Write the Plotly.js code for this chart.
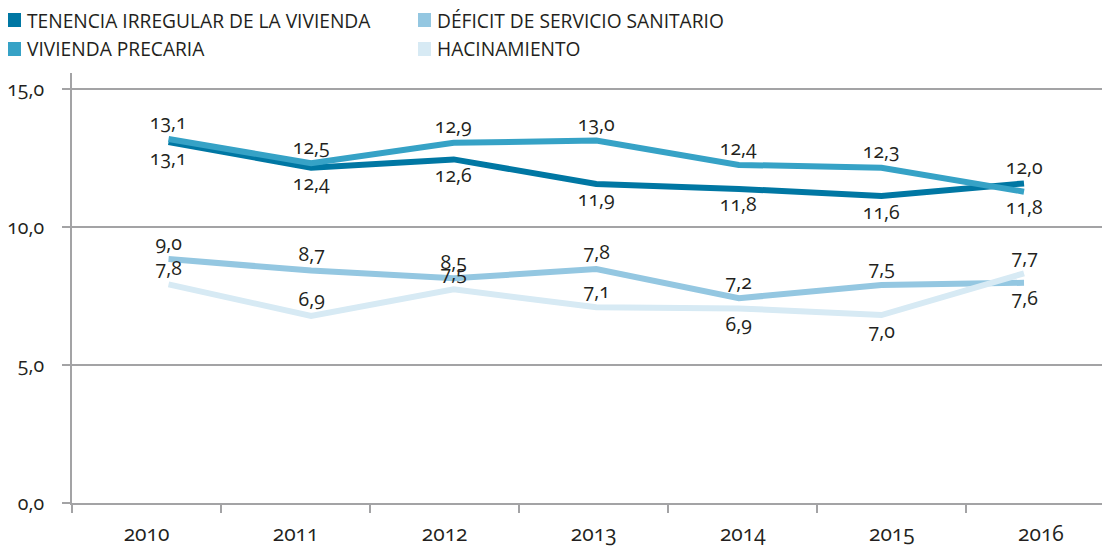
<!DOCTYPE html>
<html>
<head>
<meta charset="utf-8">
<script src="https://cdn.plot.ly/plotly-3.0.1.min.js"></script>
<style>
html,body{margin:0;padding:0;background:#fff;}
#chart{width:1102px;height:558px;}
.main-svg text{font-variant-numeric:oldstyle-nums;font-feature-settings:"onum" 1;}
</style>
</head>
<body>
<div id="chart"></div>
<script>
// Categories
const years = ['2010','2011','2012','2013','2014','2015','2016'];
const seriesNames = ['TENENCIA IRREGULAR DE LA VIVIENDA','VIVIENDA PRECARIA','DÉFICIT DE SERVICIO SANITARIO','HACINAMIENTO'];
const seriesColors = ['#0077a3','#36a2c6','#94c7e1','#d7eaf4'];

// Line values (as drawn)
const tenencia     = [13.08, 12.15, 12.45, 11.56, 11.38, 11.12, 11.58];
const precaria     = [13.19, 12.31, 13.05, 13.13, 12.25, 12.15, 11.28];
const deficit      = [8.84, 8.42, 8.14, 8.48, 7.42, 7.90, 7.98];
const hacinamiento = [7.92, 6.78, 7.74, 7.09, 7.05, 6.81, 8.32];

// Printed data labels
const tenenciaLabels     = ['13,1','12,4','12,6','11,9','11,8','11,6','12,0'];
const precariaLabels     = ['13,1','12,5','12,9','13,0','12,4','12,3','11,8'];
const deficitLabels      = ['9,0','8,7','8,5','7,8','7,2','7,5','7,6'];
const hacinamientoLabels = ['7,8','6,9','7,5','7,1','6,9','7,0','7,7'];

// Label side (+1 above, -1 below)
const tenenciaSide     = [-1,-1,-1,-1,-1,-1, 1];
const precariaSide     = [ 1, 1, 1, 1, 1, 1,-1];
const deficitSide      = [ 1, 1, 1, 1, 1, 1,-1];
const hacinamientoSide = [ 1, 1, 1, 1,-1,-1, 1];

// Y axis ticks
const yTickVals = [0, 5, 10, 15];
const yTickText = ['0,0','5,0','10,0','15,0'];

const FONT = '"Open Sans", Lato, "DejaVu Sans", sans-serif';
const TXT = '#231f20';
const GRID = '#a3a3a5';

const idx = years.map((_, i) => i);
const allVals = [tenencia, precaria, deficit, hacinamiento];
const allLabels = [tenenciaLabels, precariaLabels, deficitLabels, hacinamientoLabels];
const allSides = [tenenciaSide, precariaSide, deficitSide, hacinamientoSide];

const traces = [{
  x: years, y: years.map(() => null), type: 'scatter', mode: 'lines',
  xaxis: 'x', yaxis: 'y', showlegend: false, hoverinfo: 'skip'
}];
allVals.forEach((v, s) => {
  traces.push({
    x: idx, y: v, type: 'scatter', mode: 'lines', name: seriesNames[s],
    xaxis: 'x2', yaxis: 'y', showlegend: false,
    line: {color: seriesColors[s], width: 6}
  });
});

const annotations = [];
allVals.forEach((v, s) => {
  v.forEach((val, i) => {
    annotations.push({
      xref: 'x2', yref: 'y', x: i, y: val, text: allLabels[s][i],
      showarrow: false, xanchor: 'center', yanchor: 'middle',
      yshift: allSides[s][i] > 0 ? 17 : -15,
      font: {family: FONT, size: 19.5, color: TXT}
    });
  });
});

// Manual legend
const legendPos = [[8, 20], [8, 49], [418, 20], [418, 49]];
const shapes = [];
seriesNames.forEach((n, s) => {
  const [lx, ly] = legendPos[s];
  shapes.push({
    type: 'rect', xref: 'paper', yref: 'paper',
    x0: (lx - 72) / 1030, x1: (lx + 13 - 72) / 1030,
    y0: (503 - (ly + 7)) / 430, y1: (503 - (ly - 7)) / 430,
    fillcolor: seriesColors[s], line: {width: 0}
  });
  annotations.push({
    xref: 'paper', yref: 'paper', x: (lx + 17 - 72) / 1030, y: (503 - ly) / 430,
    xanchor: 'left', yanchor: 'middle', showarrow: false, text: n,
    font: {family: FONT, size: 19.2, color: TXT}
  });
});

const layout = {
  width: 1102, height: 558,
  margin: {l: 72, r: 0, t: 73, b: 55},
  paper_bgcolor: '#fff', plot_bgcolor: '#fff',
  showlegend: false,
  xaxis: {
    type: 'category', categoryarray: years, range: [-0.5, 6.41],
    tickson: 'boundaries', ticks: 'outside', ticklen: 8, tickwidth: 2, tickcolor: GRID,
    showline: true, linecolor: GRID, linewidth: 2, showgrid: false, zeroline: false,
    tickfont: {family: FONT, size: 21, color: TXT}, ticklabelstandoff: 11,
    fixedrange: true
  },
  xaxis2: {
    overlaying: 'x', anchor: 'y', range: [-0.677, 6.547], visible: false, fixedrange: true
  },
  yaxis: {
    range: [0, 15.58], tickvals: yTickVals, ticktext: yTickText,
    ticks: 'outside', ticklen: 8, tickwidth: 2, tickcolor: GRID,
    showline: true, linecolor: GRID, linewidth: 2,
    showgrid: true, gridcolor: GRID, gridwidth: 2, zeroline: false,
    tickfont: {family: FONT, size: 19.5, color: TXT}, ticklabelstandoff: 14,
    fixedrange: true
  },
  annotations: annotations,
  shapes: shapes
};

Plotly.newPlot('chart', traces, layout, {displayModeBar: false, staticPlot: true});
</script>
</body>
</html>
